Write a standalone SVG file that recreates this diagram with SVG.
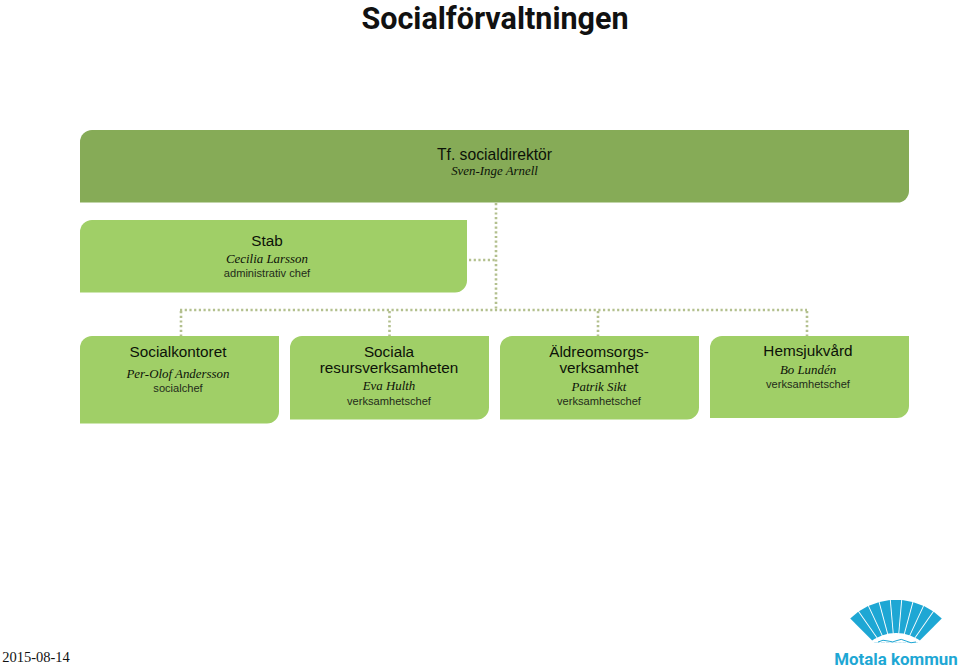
<svg xmlns="http://www.w3.org/2000/svg" xmlns:xlink="http://www.w3.org/1999/xlink" width="959" height="670" viewBox="0 0 959 670">
<style>
text{text-anchor:middle;fill:#0c1208}
.t{font:15.300px "Liberation Sans",Arial,sans-serif}
.n{font:italic 12.900px "Liberation Serif","Times New Roman",serif}
.r{font:11.100px "Liberation Sans",Arial,sans-serif;fill:#232c1a}
.top{fill:#86ab57}
.box{fill:#a0cf67}
.c{fill:none;stroke:#b3c08e;stroke-width:2.600;stroke-dasharray:2.200 2.500}
.w{fill:#1ea7d4}
</style>
<defs><path id="wedge" class="w" d="M-1.300-20L-5.200-65H5.200L1.300-20Z"/></defs>
<rect width="959" height="670" fill="#fff"/>
<text x="495" y="28.500" style="font:700 30.500px Roboto,'Liberation Sans',sans-serif;fill:#111">Socialförvaltningen</text>
<g id="connectors">
<path class="c" d="M496 203V310"/>
<path class="c" d="M469 260H496"/>
<path class="c" d="M180 310H807"/>
<path class="c" d="M181 311V336"/>
<path class="c" d="M389.500 311V336"/>
<path class="c" d="M598 311V336"/>
<path class="c" d="M807 311V336"/>
</g>
<g id="node-direktor">
<path class="top" d="M92 130H909V191A11.500 11.500 0 0 1 897.500 202.500H80V142A12 12 0 0 1 92 130Z"/>
<text class="t" x="494.500" y="159.500" style="font-size:15.700px">Tf. socialdirektör</text>
<text class="n" x="494.500" y="174.500">Sven-Inge Arnell</text>
</g>
<g id="node-stab">
<path class="box" d="M92 220H467V280.500A12 12 0 0 1 455 292.500H80V232A12 12 0 0 1 92 220Z"/>
<text class="t" x="267" y="245.500">Stab</text>
<text class="n" x="267" y="263">Cecilia Larsson</text>
<text class="r" x="267" y="277">administrativ chef</text>
</g>
<g id="node-socialkontoret">
<path class="box" d="M92 336H279V411.500A12 12 0 0 1 267 423.500H80V348A12 12 0 0 1 92 336Z"/>
<text class="t" x="178" y="357">Socialkontoret</text>
<text class="n" x="178" y="377.500">Per-Olof Andersson</text>
<text class="r" x="178" y="392">socialchef</text>
</g>
<g id="node-resurs">
<path class="box" d="M302 336H489V407.500A12 12 0 0 1 477 419.500H290V348A12 12 0 0 1 302 336Z"/>
<text class="t" x="389" y="356.500">Sociala</text>
<text class="t" x="389" y="373">resursverksamheten</text>
<text class="n" x="389" y="390">Eva Hulth</text>
<text class="r" x="389" y="405">verksamhetschef</text>
</g>
<g id="node-aldre">
<path class="box" d="M512 336H699V407.500A12 12 0 0 1 687 419.500H500V348A12 12 0 0 1 512 336Z"/>
<text class="t" x="599" y="357">Äldreomsorgs-</text>
<text class="t" x="599" y="373">verksamhet</text>
<text class="n" x="599" y="391">Patrik Sikt</text>
<text class="r" x="599" y="405">verksamhetschef</text>
</g>
<g id="node-hemsjukvard">
<path class="box" d="M722 336H909V406A12 12 0 0 1 897 418H710V348A12 12 0 0 1 722 336Z"/>
<text class="t" x="808" y="356">Hemsjukvård</text>
<text class="n" x="808" y="373.500">Bo Lundén</text>
<text class="r" x="808" y="388">verksamhetschef</text>
</g>
<text x="36" y="662" style="font:14.500px 'Liberation Serif','Times New Roman',serif;fill:#111">2015-08-14</text>
<g id="logo">
<use xlink:href="#wedge" href="#wedge" transform="translate(896 665) rotate(-40)"/>
<use xlink:href="#wedge" href="#wedge" transform="translate(896 665) rotate(-30)"/>
<use xlink:href="#wedge" href="#wedge" transform="translate(896 665) rotate(-20)"/>
<use xlink:href="#wedge" href="#wedge" transform="translate(896 665) rotate(-10)"/>
<use xlink:href="#wedge" href="#wedge" transform="translate(896 665)"/>
<use xlink:href="#wedge" href="#wedge" transform="translate(896 665) rotate(10)"/>
<use xlink:href="#wedge" href="#wedge" transform="translate(896 665) rotate(20)"/>
<use xlink:href="#wedge" href="#wedge" transform="translate(896 665) rotate(30)"/>
<use xlink:href="#wedge" href="#wedge" transform="translate(896 665) rotate(40)"/>
<rect x="840" y="642.500" width="112" height="27" fill="#fff"/>
<path d="M869.500 642.500A41.500 41.500 0 0 1 922.500 642.500Z" fill="#fff"/>
<path d="M878 642Q883 639 888 641T897 640.500T906 641T916 642" fill="none" stroke="#1ea7d4" stroke-width="1"/>
<text x="896" y="665" style="font:700 16.900px Roboto,'Liberation Sans',sans-serif;fill:#1ea7d4">Motala kommun</text>
</g>
</svg>
